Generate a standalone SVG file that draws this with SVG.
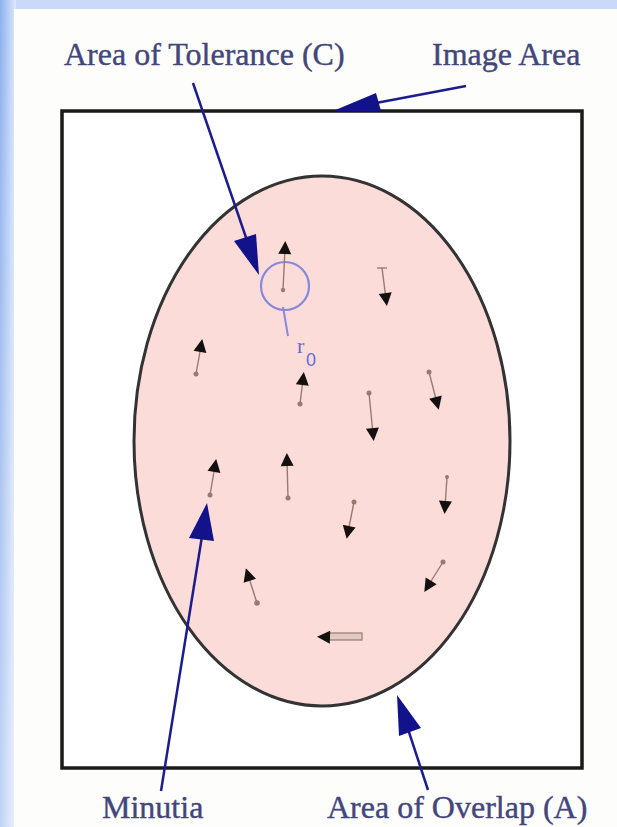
<svg xmlns="http://www.w3.org/2000/svg" width="617" height="827" viewBox="0 0 617 827">
<defs>
<linearGradient id="leftBand" x1="0" y1="0" x2="1" y2="0">
<stop offset="0" stop-color="#8cb0ee"/>
<stop offset="1" stop-color="#dfe9fb"/>
</linearGradient>
<linearGradient id="leftFade" x1="0" y1="0" x2="0" y2="1">
<stop offset="0" stop-color="#ffffff" stop-opacity="0"/>
<stop offset="1" stop-color="#ffffff" stop-opacity="0.45"/>
</linearGradient>
<polygon id="tri" points="0,-7 6.5,6 -6.5,6"/>
</defs>
<style>
.lbl{font-family:"Liberation Serif","Times New Roman",serif;font-size:32px;fill:#43467a;stroke:#43467a;stroke-width:0.4;}
.con{stroke:#1c1c8c;stroke-width:2.5;fill:none;}
.head{fill:#12128a;}
.tail{stroke:#9a7a70;stroke-width:1.4;fill:none;}
.dot{fill:#9a7a70;}
.mtri{fill:#141010;}
</style>
<!-- background -->
<rect x="0" y="0" width="617" height="827" fill="#c8daf8"/>
<rect x="0" y="0" width="16" height="827" fill="url(#leftBand)"/>
<rect x="0" y="0" width="16" height="827" fill="url(#leftFade)"/>
<rect x="14" y="9" width="603" height="818" fill="#fdfefb"/>
<g id="image-area">
<rect x="62" y="111" width="520" height="657" fill="#ffffff" stroke="#1a1a1a" stroke-width="3.5"/>
</g>
<g id="area-of-overlap">
<ellipse cx="322" cy="441" rx="188" ry="265" fill="#fbdcd8" stroke="#333333" stroke-width="3"/>
</g>
<g id="area-of-tolerance">
<circle cx="285" cy="286" r="24" fill="none" stroke="#8787de" stroke-width="2.2"/>
<line x1="283" y1="307" x2="288" y2="336" stroke="#8787de" stroke-width="2"/>
<text x="297" y="353" font-family="Liberation Serif, serif" font-size="22" fill="#6a6ad6">r</text>
<text x="306" y="366" font-family="Liberation Sans, sans-serif" font-size="18" fill="#6a6ad6">0</text>
</g>
<g id="minutiae">
<g id="m1"><line class="tail" x1="285" y1="248" x2="283" y2="290"/><circle class="dot" cx="283" cy="290" r="2.2"/><use href="#tri" class="mtri" transform="translate(285,248) rotate(2.7)"/></g>
<g id="m2"><line class="tail" x1="386" y1="299" x2="382" y2="268"/><line class="tail" x1="377" y1="268" x2="387" y2="268"/><use href="#tri" class="mtri" transform="translate(386,299) rotate(172.6)"/></g>
<g id="m3"><line class="tail" x1="201" y1="346" x2="196" y2="374"/><circle class="dot" cx="196" cy="374" r="2.5"/><use href="#tri" class="mtri" transform="translate(201,346) rotate(10.1)"/></g>
<g id="m4"><line class="tail" x1="303" y1="379" x2="300" y2="404"/><circle class="dot" cx="300" cy="404" r="2.5"/><use href="#tri" class="mtri" transform="translate(303,379) rotate(6.8)"/></g>
<g id="m5"><line class="tail" x1="373" y1="434" x2="369" y2="393"/><circle class="dot" cx="369" cy="393" r="2.5"/><use href="#tri" class="mtri" transform="translate(373,434) rotate(174.4)"/></g>
<g id="m6"><line class="tail" x1="437" y1="403" x2="429" y2="372"/><circle class="dot" cx="429" cy="372" r="2.5"/><use href="#tri" class="mtri" transform="translate(437,403) rotate(165.5)"/></g>
<g id="m7"><line class="tail" x1="215" y1="466" x2="210" y2="495"/><circle class="dot" cx="210" cy="495" r="2.5"/><use href="#tri" class="mtri" transform="translate(215,466) rotate(9.8)"/></g>
<g id="m8"><line class="tail" x1="287" y1="460" x2="288" y2="498"/><circle class="dot" cx="288" cy="498" r="2.5"/><use href="#tri" class="mtri" transform="translate(287,460) rotate(-1.5)"/></g>
<g id="m9"><line class="tail" x1="348" y1="532" x2="354" y2="502"/><circle class="dot" cx="354" cy="502" r="2.5"/><use href="#tri" class="mtri" transform="translate(348,532) rotate(191.3)"/></g>
<g id="m10"><line class="tail" x1="445" y1="507" x2="447" y2="477"/><circle class="dot" cx="447" cy="477" r="2"/><use href="#tri" class="mtri" transform="translate(445,507) rotate(183.8)"/></g>
<g id="m11"><line class="tail" x1="248" y1="575" x2="257" y2="603"/><circle class="dot" cx="257" cy="603" r="2.8"/><use href="#tri" class="mtri" transform="translate(248,575) rotate(-17.8)"/></g>
<g id="m12"><line class="tail" x1="428" y1="586" x2="443" y2="562"/><circle class="dot" cx="443" cy="562" r="2.5"/><use href="#tri" class="mtri" transform="translate(428,586) rotate(212)"/></g>
<g id="m13"><rect x="328" y="633" width="34" height="7" fill="#e0cac2" stroke="#9a7a70" stroke-width="1.2"/><use href="#tri" class="mtri" transform="translate(324,637) rotate(-88.5)"/></g>
</g>
<g id="connectors">
<line class="con" x1="193" y1="83" x2="252" y2="255"/>
<polygon class="head" points="259,275 256,234 234,241"/>
<line class="con" x1="466" y1="86" x2="360" y2="106"/>
<polygon class="head" points="333,111 381,111 376,93"/>
<line class="con" x1="161" y1="791" x2="203" y2="530"/>
<polygon class="head" points="207,503 214,541 189,538"/>
<line class="con" x1="428" y1="790" x2="405" y2="720"/>
<polygon class="head" points="397,695 421,728 399,736"/>
</g>
<g id="labels">
<text class="lbl" x="64" y="65">Area of Tolerance (C)</text>
<text class="lbl" x="432" y="65">Image Area</text>
<text class="lbl" x="102" y="818">Minutia</text>
<text class="lbl" x="327" y="818">Area of Overlap (A)</text>
</g>
</svg>
